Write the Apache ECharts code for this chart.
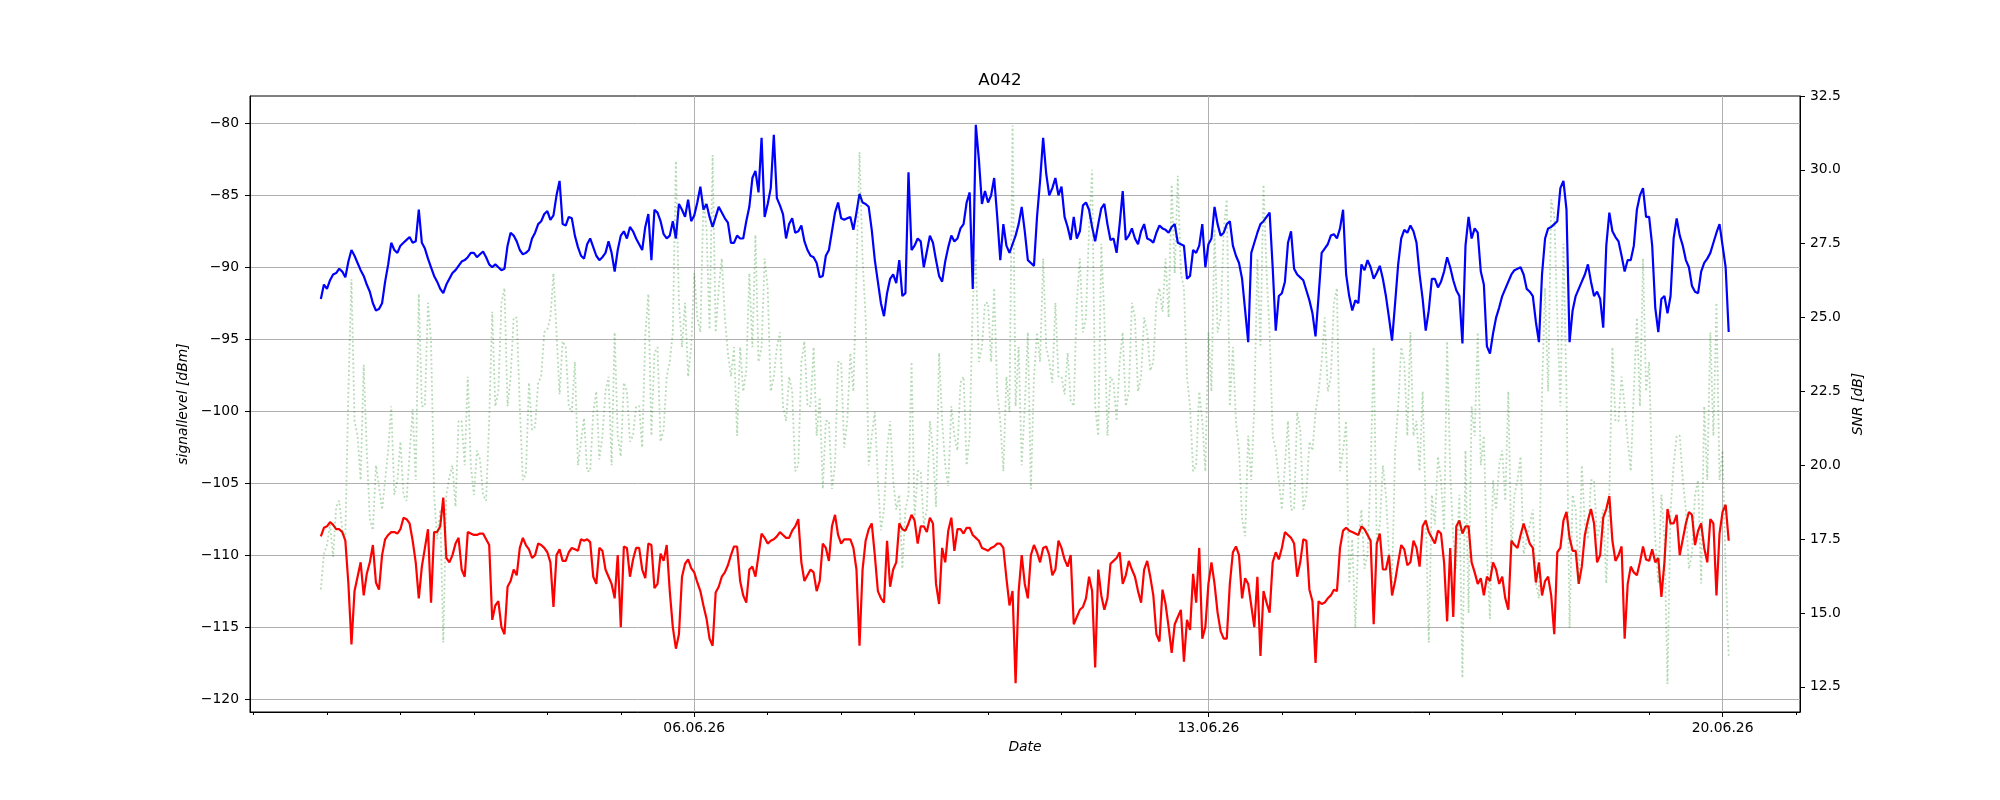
<!DOCTYPE html>
<html>
<head>
<meta charset="utf-8">
<script src="https://cdn.jsdelivr.net/npm/echarts@6/dist/echarts.min.js"></script>
<style>html,body{margin:0;padding:0;background:#fff}#c{width:2000px;height:800px}</style>
</head>
<body>
<div id="c"></div>
<script>
// ---- data (one reading per hour, starting 31.05.2026 22:00 UTC) ----
const startTimeUTC = '2026-05-31T22:00:00Z';
const stepHours = 1;

const signalLevel = [
-92.2,-91.2,-91.5,-90.9,-90.5,-90.4,-90.1,-90.3,-90.7,-89.6,
-88.8,-89.2,-89.7,-90.2,-90.6,-91.2,-91.7,-92.5,-93.0,-92.9,
-92.5,-91.0,-89.8,-88.3,-88.8,-89.0,-88.5,-88.3,-88.1,-87.9,
-88.3,-88.2,-86.0,-88.3,-88.7,-89.4,-90.0,-90.6,-91.0,-91.5,
-91.8,-91.2,-90.8,-90.4,-90.2,-89.9,-89.6,-89.5,-89.3,-89.0,
-89.0,-89.3,-89.1,-88.9,-89.3,-89.8,-90.0,-89.8,-90.0,-90.2,
-90.1,-88.5,-87.6,-87.8,-88.2,-88.8,-89.1,-89.0,-88.8,-88.0,
-87.6,-87.0,-86.8,-86.3,-86.1,-86.7,-86.4,-85.0,-84.0,-87.0,
-87.1,-86.5,-86.6,-87.8,-88.6,-89.2,-89.4,-88.4,-88.0,-88.6,
-89.2,-89.5,-89.3,-89.0,-88.2,-89.0,-90.3,-88.8,-87.8,-87.5,
-88.0,-87.2,-87.5,-88.0,-88.4,-88.8,-87.2,-86.3,-89.5,-86.0,
-86.2,-86.8,-87.7,-88.0,-87.8,-86.8,-88.0,-85.6,-86.0,-86.5,
-85.3,-86.8,-86.4,-85.5,-84.4,-86.0,-85.6,-86.5,-87.2,-86.5,
-85.8,-86.2,-86.6,-86.9,-88.3,-88.3,-87.8,-88.0,-88.0,-86.8,
-85.8,-83.8,-83.3,-84.8,-81.0,-86.5,-85.6,-84.5,-80.8,-85.2,
-85.7,-86.3,-88.0,-87.0,-86.6,-87.6,-87.5,-87.1,-88.2,-88.8,
-89.2,-89.3,-89.7,-90.7,-90.6,-89.2,-88.8,-87.5,-86.2,-85.5,
-86.6,-86.7,-86.6,-86.5,-87.4,-86.2,-84.9,-85.5,-85.6,-85.8,
-87.4,-89.5,-91.0,-92.5,-93.4,-91.8,-90.8,-90.5,-91.1,-89.5,
-92.0,-91.8,-83.4,-88.8,-88.5,-88.0,-88.2,-90.0,-88.9,-87.8,
-88.3,-89.5,-90.6,-91.0,-89.6,-88.6,-87.8,-88.2,-88.0,-87.3,
-87.0,-85.5,-84.8,-91.5,-80.1,-82.5,-85.6,-84.7,-85.5,-85.0,
-83.8,-86.5,-89.5,-87.0,-88.5,-89.0,-88.4,-87.8,-87.0,-85.8,
-87.5,-89.5,-89.7,-89.9,-86.5,-84.0,-81.0,-83.5,-85.0,-84.5,
-83.8,-85.0,-84.4,-86.5,-87.2,-88.1,-86.5,-88.0,-87.5,-85.7,
-85.5,-86.0,-87.2,-88.2,-87.0,-85.9,-85.6,-87.0,-88.1,-88.0,
-89.0,-87.0,-84.7,-88.1,-87.8,-87.3,-88.0,-88.4,-87.5,-87.0,
-88.0,-88.1,-88.3,-87.6,-87.1,-87.3,-87.4,-87.6,-87.2,-87.0,
-88.3,-88.4,-88.5,-90.8,-90.6,-88.8,-89.0,-88.5,-87.0,-90.0,
-88.4,-88.0,-85.8,-87.0,-87.8,-87.6,-87.0,-86.8,-88.5,-89.2,
-89.7,-90.8,-93.0,-95.2,-89.0,-88.3,-87.6,-87.0,-86.8,-86.5,
-86.2,-90.0,-94.4,-92.0,-91.8,-91.0,-88.3,-87.5,-90.1,-90.5,
-90.7,-90.9,-91.6,-92.3,-93.2,-94.8,-92.0,-89.0,-88.7,-88.4,
-87.8,-87.7,-88.0,-87.3,-86.0,-90.5,-92.0,-93.0,-92.3,-92.5,
-89.8,-90.2,-89.5,-90.0,-90.8,-90.4,-89.9,-90.8,-92.0,-93.5,
-95.1,-92.5,-89.8,-88.0,-87.4,-87.6,-87.1,-87.5,-88.3,-90.5,
-92.2,-94.4,-93.0,-90.8,-90.8,-91.4,-91.0,-90.3,-89.3,-90.0,
-90.9,-91.6,-92.0,-95.3,-88.5,-86.5,-88.0,-87.3,-87.6,-90.3,
-91.2,-95.5,-96.0,-94.6,-93.5,-92.8,-92.0,-91.5,-91.0,-90.5,
-90.2,-90.1,-90.0,-90.5,-91.5,-91.7,-92.0,-93.8,-95.2,-90.5,
-88.0,-87.3,-87.2,-87.0,-86.8,-84.5,-84.0,-86.0,-95.2,-93.0,
-92.0,-91.5,-91.0,-90.5,-89.8,-91.0,-92.0,-91.7,-92.2,-94.2,
-88.5,-86.2,-87.5,-87.9,-88.2,-89.2,-90.3,-89.5,-89.5,-88.5,
-86.0,-85.0,-84.5,-86.5,-86.5,-88.5,-92.8,-94.5,-92.2,-92.0,
-93.2,-92.0,-88.0,-86.6,-87.8,-88.5,-89.5,-90.0,-91.3,-91.7,
-91.8,-90.3,-89.7,-89.4,-89.0,-88.3,-87.6,-87.0,-88.5,-90.0,
-94.5
];

const noiseLevel = [
-108.7,-108.1,-108.0,-107.7,-107.9,-108.2,-108.2,-108.4,-109.0,-112.0,
-116.2,-112.5,-111.5,-110.5,-112.8,-111.3,-110.5,-109.3,-111.9,-112.4,
-110.0,-108.9,-108.6,-108.4,-108.4,-108.5,-108.2,-107.4,-107.5,-107.8,
-109.0,-110.5,-113.0,-110.8,-109.5,-108.2,-113.3,-108.4,-108.4,-108.0,
-106.0,-110.2,-110.5,-110.0,-109.2,-108.8,-111.0,-111.5,-108.4,-108.5,
-108.6,-108.6,-108.5,-108.5,-108.9,-109.3,-114.5,-113.5,-113.2,-115.0,
-115.5,-112.2,-111.8,-111.0,-111.4,-109.5,-108.8,-109.3,-109.6,-110.2,
-110.0,-109.2,-109.3,-109.5,-109.8,-110.5,-113.6,-110.0,-109.6,-110.4,
-110.4,-109.8,-109.5,-109.6,-109.7,-108.9,-109.0,-108.9,-109.1,-111.5,
-112.0,-109.5,-109.7,-111.0,-111.5,-112.0,-113.0,-110.0,-115.0,-109.4,
-109.5,-111.5,-110.3,-109.5,-109.5,-111.0,-111.6,-109.2,-109.3,-112.3,
-112.0,-109.9,-110.4,-109.3,-112.5,-115.0,-116.5,-115.5,-111.5,-110.6,
-110.3,-110.9,-111.2,-111.9,-112.5,-113.5,-114.4,-115.8,-116.3,-112.6,
-112.2,-111.5,-111.2,-110.7,-110.0,-109.4,-109.4,-111.8,-112.8,-113.3,
-111.0,-110.8,-111.5,-110.0,-108.5,-108.8,-109.2,-109.0,-108.9,-108.7,
-108.4,-108.6,-108.8,-108.8,-108.3,-108.0,-107.5,-110.5,-111.8,-111.4,
-111.0,-111.2,-112.5,-111.8,-109.2,-109.5,-110.4,-108.0,-107.2,-108.6,
-109.2,-108.9,-108.9,-108.9,-109.5,-111.0,-116.3,-111.0,-109.0,-108.2,
-107.8,-110.0,-112.5,-113.0,-113.3,-109.0,-112.2,-111.0,-110.5,-107.8,
-108.2,-108.3,-107.8,-107.2,-107.6,-109.2,-108.0,-108.0,-108.4,-107.4,
-107.8,-112.0,-113.4,-109.5,-110.5,-108.3,-107.4,-109.7,-108.2,-108.2,
-108.5,-108.1,-108.1,-108.6,-108.8,-109.0,-109.5,-109.6,-109.7,-109.5,
-109.4,-109.2,-109.2,-109.5,-111.6,-113.5,-112.5,-118.9,-112.5,-110.0,
-112.0,-113.0,-110.0,-109.3,-109.8,-110.5,-109.5,-109.4,-110.0,-111.4,
-111.0,-109.0,-109.5,-110.3,-110.8,-110.0,-114.8,-114.3,-113.8,-113.6,
-113.0,-111.5,-112.5,-117.8,-111.0,-112.8,-113.8,-113.0,-110.6,-110.4,
-110.2,-109.8,-112.0,-111.4,-110.4,-111.0,-111.5,-112.5,-113.3,-111.0,
-110.4,-111.5,-112.8,-115.5,-116.0,-112.4,-113.4,-115.0,-116.8,-114.8,
-114.3,-113.8,-117.4,-114.5,-115.2,-111.3,-113.3,-109.5,-115.8,-115.0,
-112.0,-110.5,-112.0,-114.0,-115.3,-115.8,-115.8,-112.0,-109.8,-109.4,
-110.0,-113.0,-111.6,-112.0,-113.5,-115.0,-111.5,-117.0,-112.5,-113.3,
-114.0,-110.5,-109.8,-110.3,-109.5,-108.4,-108.6,-108.8,-109.2,-111.5,
-110.5,-108.9,-109.0,-112.4,-113.2,-117.5,-113.2,-113.4,-113.3,-113.0,
-112.8,-112.4,-112.5,-109.5,-108.3,-108.1,-108.3,-108.4,-108.5,-108.6,
-108.0,-108.2,-108.6,-109.0,-114.8,-109.2,-108.5,-111.0,-111.0,-110.0,
-112.8,-111.8,-110.5,-109.3,-109.6,-110.7,-110.5,-109.0,-109.5,-110.8,
-108.0,-107.6,-108.4,-108.8,-109.2,-108.3,-108.5,-110.5,-114.6,-109.5,
-114.3,-108.0,-107.6,-108.5,-108.0,-108.0,-110.5,-111.2,-112.0,-111.6,
-112.8,-111.5,-111.8,-110.5,-111.0,-112.0,-111.5,-113.0,-113.8,-109.0,
-109.3,-109.5,-108.6,-107.8,-108.5,-109.2,-109.5,-111.9,-110.5,-112.8,
-111.8,-111.5,-112.8,-115.5,-109.8,-109.5,-107.6,-107.0,-108.8,-109.7,
-109.7,-112.0,-110.8,-108.6,-107.6,-106.8,-107.8,-110.5,-110.0,-107.4,
-106.8,-105.9,-109.0,-110.4,-110.0,-109.4,-115.8,-112.0,-110.8,-111.2,
-111.4,-110.5,-109.4,-110.3,-110.4,-109.6,-110.5,-110.2,-112.9,-110.5,
-106.8,-107.8,-107.8,-107.2,-110.0,-108.9,-107.8,-107.0,-107.2,-109.3,
-108.3,-107.8,-109.5,-110.5,-107.5,-107.8,-112.8,-108.5,-107.0,-106.5,
-109.0
];

const snr = [
15.8,17.0,17.3,18.0,16.9,18.6,18.8,17.8,17.6,22.5,
26.3,21.5,21.0,19.5,23.4,20.5,18.2,17.8,20.0,19.3,
18.5,19.5,20.5,22.0,19.0,19.5,20.8,19.0,18.8,20.4,
21.9,19.5,25.8,22.0,22.0,25.5,24.2,19.0,17.5,18.5,
14.0,19.0,19.6,20.0,18.6,21.5,21.5,20.0,23.0,20.0,
19.0,20.5,20.2,19.0,18.8,21.5,25.2,22.0,22.5,25.5,
26.0,22.0,23.0,25.0,25.0,22.0,19.5,19.7,22.8,21.2,
21.3,22.8,23.0,24.5,24.6,25.0,26.5,24.5,22.4,24.2,
24.0,22.0,21.8,23.5,20.0,20.8,21.6,19.8,19.8,21.8,
22.5,20.2,21.0,22.5,23.0,20.0,24.5,21.0,20.3,22.8,
22.5,20.8,21.0,22.0,22.0,20.6,24.4,25.8,21.0,23.8,
24.0,20.8,21.2,23.0,23.5,24.5,30.3,25.5,24.0,25.5,
23.0,24.0,26.5,25.0,24.5,29.0,28.0,24.6,30.5,24.5,
26.0,27.0,25.0,23.8,23.0,24.0,21.0,24.0,22.5,23.2,
26.5,24.0,27.8,23.5,24.0,27.0,26.0,22.5,23.0,24.0,
24.5,22.0,21.5,23.0,22.5,19.8,20.0,23.5,24.2,22.0,
22.0,24.0,21.0,22.3,19.2,21.5,21.5,19.2,20.0,23.5,
23.5,20.6,21.5,23.8,22.5,26.5,30.6,27.0,25.0,20.0,
21.0,21.8,19.5,17.8,18.5,20.5,21.5,19.5,18.5,19.0,
16.5,18.5,19.0,23.5,18.2,19.8,19.8,18.0,18.5,21.5,
20.5,18.6,23.8,21.5,20.0,19.3,22.0,21.0,20.5,22.8,
23.0,20.0,21.0,25.5,27.0,23.5,24.0,25.5,25.5,23.5,
26.0,22.5,21.5,19.8,23.0,21.8,31.5,22.0,24.0,20.0,
22.0,24.5,19.2,23.0,24.5,23.5,27.0,24.0,23.5,22.8,
25.5,23.0,23.0,22.4,23.8,22.2,22.0,25.5,27.0,24.5,
25.0,28.0,30.0,22.0,21.0,27.5,25.0,21.0,23.0,22.8,
21.5,23.5,24.5,22.0,22.5,25.5,25.0,22.5,23.0,25.0,
24.5,23.2,23.5,25.5,26.0,25.2,27.0,25.0,29.5,26.5,
29.8,26.5,26.0,23.0,22.0,19.8,20.0,22.5,21.5,19.8,
24.5,22.5,28.0,24.5,25.0,28.0,29.0,22.0,24.0,21.5,
20.5,18.2,17.6,21.0,19.5,22.0,27.0,24.0,29.5,26.5,
24.5,21.0,20.5,19.5,18.5,20.0,21.5,18.5,18.5,21.8,
21.2,18.5,19.0,20.8,20.5,21.8,22.5,23.5,25.0,22.5,
23.0,25.5,26.0,19.8,20.5,21.5,16.0,17.5,14.5,17.5,
18.5,16.5,17.0,19.8,24.0,17.3,18.0,20.0,19.0,17.0,
16.0,20.5,22.0,24.0,23.5,21.0,24.5,21.0,21.5,19.8,
22.5,18.5,14.0,19.0,18.0,20.3,19.5,17.8,24.2,19.8,
17.5,16.5,19.0,12.8,20.5,15.0,22.0,21.0,24.5,20.0,
21.0,17.0,14.8,19.5,18.5,20.0,20.5,18.8,22.5,17.0,
19.0,19.5,20.3,17.0,17.5,18.0,18.5,16.0,15.5,22.5,
26.0,22.5,29.0,28.5,25.0,22.0,27.5,22.5,14.5,19.0,
18.5,16.0,20.0,18.0,17.5,19.5,19.5,17.5,18.0,18.5,
16.0,19.0,24.0,21.5,21.5,23.0,22.0,20.8,19.8,22.5,
25.0,22.0,27.0,22.5,23.5,19.5,17.5,16.0,19.0,17.5,
12.6,18.5,20.0,21.0,21.0,19.5,18.5,16.5,17.0,19.0,
19.5,16.0,22.0,19.5,24.5,21.0,25.5,19.5,20.5,16.5,
13.5
];

const leftTicks = [-120, -115, -110, -105, -100, -95, -90, -85, -80];
const rightTicks = [12.5, 15.0, 17.5, 20.0, 22.5, 25.0, 27.5, 30.0, 32.5];
const dateTickLabels = ['06.06.26', '13.06.26', '20.06.26'];
const firstDay = '31.05.26', lastDay = '21.06.26';

// ---- helpers ----
const DAY = 86400000;
function parseDMY(s) {
  const p = s.split('.');
  return Date.UTC(2000 + (+p[2]), (+p[1]) - 1, +p[0]);
}
const t0 = Date.parse(startTimeUTC);
const times = signalLevel.map((_, i) => t0 + i * stepHours * 3600000);
const majorTicks = dateTickLabels.map(parseDMY);
const minorTicks = [];
for (let t = parseDMY(firstDay); t <= parseDMY(lastDay); t += DAY) minorTicks.push(t);

const xMin = parseDMY('06.06.26') - 6.048 * DAY;
const xMax = parseDMY('20.06.26') + 1.054 * DAY;

const FONT = 'DejaVu Sans';
const FS = 13.9;

const chart = echarts.init(document.getElementById('c'), null, { renderer: 'canvas' });
chart.setOption({
  animation: false,
  backgroundColor: '#ffffff',
  title: {
    text: 'A042', left: 'center', top: 72, padding: 0,
    textStyle: { fontFamily: FONT, fontSize: 16.7, fontWeight: 'normal', color: '#000' }
  },
  grid: { left: 250, right: 200, top: 96, bottom: 88, show: true, borderColor: '#000', borderWidth: 1, containLabel: false },
  xAxis: [{
    type: 'value', min: xMin, max: xMax, position: 'bottom',
    name: 'Date', nameLocation: 'middle', nameGap: 28,
    nameTextStyle: { fontFamily: FONT, fontSize: FS, fontStyle: 'italic', color: '#000' },
    axisLine: { show: true, onZero: false, lineStyle: { color: '#000', width: 1 } },
    axisTick: { show: true, length: 5, inside: false, customValues: majorTicks, lineStyle: { color: '#000', width: 1 } },
    axisLabel: {
      customValues: majorTicks, margin: 9, fontFamily: FONT, fontSize: FS, color: '#000',
      formatter: v => { const k = majorTicks.indexOf(v); return k >= 0 ? dateTickLabels[k] : ''; }
    },
    splitLine: { show: true, lineStyle: { color: '#b0b0b0', width: 1 } }
  }, {
    type: 'value', min: xMin, max: xMax, position: 'bottom',
    axisLine: { show: false },
    axisTick: { show: true, length: 3, customValues: minorTicks, lineStyle: { color: '#000', width: 1 } },
    axisLabel: { show: false },
    splitLine: { show: false }
  }],
  yAxis: [{
    type: 'value', position: 'left', min: -120.9, max: -78.1, splitNumber: 8,
    name: 'signallevel [dBm]', nameLocation: 'middle', nameGap: 57,
    nameTextStyle: { fontFamily: FONT, fontSize: FS, fontStyle: 'italic', color: '#000' },
    axisLine: { show: true, lineStyle: { color: '#000', width: 1 } },
    axisTick: { show: true, length: 5, customValues: leftTicks, lineStyle: { color: '#000', width: 1 } },
    axisLabel: {
      customValues: leftTicks, margin: 11, fontFamily: FONT, fontSize: FS, color: '#000',
      formatter: v => String(v).replace('-', '\u2212')
    },
    splitLine: { show: true, lineStyle: { color: '#b0b0b0', width: 1 } }
  }, {
    type: 'value', position: 'right', min: 11.65, max: 32.5,
    name: 'SNR [dB]', nameLocation: 'middle', nameGap: 47,
    nameTextStyle: { fontFamily: FONT, fontSize: FS, fontStyle: 'italic', color: '#000' },
    axisLine: { show: true, lineStyle: { color: '#000', width: 1 } },
    axisTick: { show: true, length: 5, customValues: rightTicks, lineStyle: { color: '#000', width: 1 } },
    axisLabel: {
      customValues: rightTicks, margin: 10, fontFamily: FONT, fontSize: FS, color: '#000',
      formatter: v => Number(v).toFixed(1)
    },
    splitLine: { show: false }
  }],
  series: [{
    name: 'signal', type: 'line', xAxisIndex: 0, yAxisIndex: 0,
    data: times.map((t, i) => [t, signalLevel[i]]),
    showSymbol: false, symbol: 'none',
    lineStyle: { color: '#0000ff', width: 2.2 }
  }, {
    name: 'noise', type: 'line', xAxisIndex: 0, yAxisIndex: 0,
    data: times.map((t, i) => [t, noiseLevel[i]]),
    showSymbol: false, symbol: 'none',
    lineStyle: { color: '#ff0000', width: 2.2 }
  }, {
    name: 'snr', type: 'line', xAxisIndex: 0, yAxisIndex: 1,
    data: times.map((t, i) => [t, snr[i]]),
    showSymbol: false, symbol: 'none',
    lineStyle: { color: 'rgba(0,128,0,0.3)', width: 1.8, type: [1.8, 2.6] }
  }]
});
</script>
</body>
</html>
